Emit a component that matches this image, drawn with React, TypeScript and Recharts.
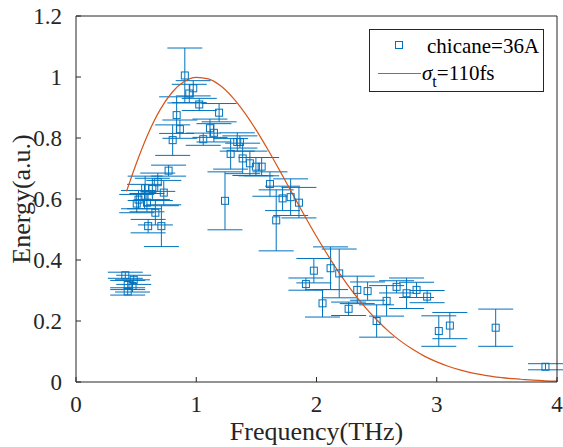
// Coherent radiation spectrum: measured energy vs frequency with a Gaussian-bunch fit
import { ComposedChart, Scatter, Line, XAxis, YAxis, ErrorBar, Legend, Label } from 'recharts';

const BLUE = '#0072BD';
const ORANGE = '#D95319';
const AXIS = '#262626';
const FONT = 'Liberation Serif, DejaVu Serif, Noto Serif, Times New Roman, serif';

const freqTicks = [0, 1, 2, 3, 4];
const energyTicks = [0, 0.2, 0.4, 0.6, 0.8, 1, 1.2];

// measurements (chicane=36A): frequency in THz, energy in a.u., half error bar
const pointFreq = [
  0.41, 0.48, 0.43, 0.47, 0.43,
  0.77, 0.68, 0.73, 0.575, 0.635, 0.52, 0.505, 0.57, 0.59, 0.66, 0.6, 0.71,
  0.905, 0.975, 0.942, 1.025, 1.19, 0.837, 0.864, 1.114, 1.147, 0.804, 1.058, 1.341, 1.363,
  1.286, 1.386, 1.446, 1.496, 1.544, 1.613, 1.239, 1.718, 1.785, 1.854, 1.665,
  1.978, 2.117, 2.189, 1.912, 2.05, 2.339, 2.425, 2.267, 2.5, 2.583, 2.666, 2.749, 2.832, 2.92,
  3.017, 3.109, 3.49, 3.904,
];
const pointEnergy = [
  0.35, 0.335, 0.318, 0.315, 0.297,
  0.693, 0.655, 0.621, 0.635, 0.633, 0.598, 0.585, 0.608, 0.588, 0.555, 0.511, 0.511,
  1.005, 0.963, 0.946, 0.91, 0.883, 0.875, 0.829, 0.832, 0.817, 0.793, 0.796, 0.787, 0.787,
  0.748, 0.733, 0.717, 0.706, 0.706, 0.649, 0.594, 0.602, 0.606, 0.588, 0.53,
  0.365, 0.373, 0.356, 0.321, 0.258, 0.302, 0.298, 0.24, 0.2, 0.266, 0.312, 0.291, 0.302, 0.28,
  0.167, 0.185, 0.178, 0.05,
];
const pointErr = [
  0.01, 0.015, 0.015, 0.02, 0.012,
  0.018, 0.03, 0.04, 0.04, 0.035, 0.03, 0.03, 0.04, 0.03, 0.04, 0.022, 0.067,
  0.09, 0.025, 0.03, 0.02, 0.03, 0.06, 0.03, 0.03, 0.03, 0.05, 0.02, 0.03, 0.02,
  0.05, 0.05, 0.04, 0.03, 0.03, 0.04, 0.095, 0.04, 0.06, 0.05, 0.1,
  0.04, 0.07, 0.08, 0.02, 0.045, 0.045, 0.03, 0.022, 0.053, 0.05, 0.02, 0.05, 0.025, 0.02,
  0.05, 0.043, 0.061, 0.01,
];

// fit curve (sigma_t = 110 fs)
const curveFreq = [
  0.42, 0.5, 0.6, 0.7, 0.8, 0.9, 1.0, 1.1, 1.2, 1.3, 1.4, 1.5, 1.6, 1.7, 1.8, 1.9, 2.0,
  2.1, 2.2, 2.3, 2.4, 2.5, 2.6, 2.7, 2.8, 2.9, 3.0, 3.1, 3.2, 3.3, 3.4, 3.5, 3.6, 3.7, 3.8, 3.9, 4.0,
];
const curveEnergy = [
  0.625, 0.715, 0.814, 0.893, 0.95, 0.985, 0.999, 0.994, 0.972, 0.934, 0.884, 0.825, 0.759, 0.689, 0.617, 0.546, 0.477,
  0.412, 0.351, 0.296, 0.247, 0.204, 0.166, 0.134, 0.107, 0.084, 0.066, 0.051, 0.039, 0.029, 0.022, 0.016, 0.012, 0.009, 0.006, 0.004, 0.003,
];

const points = pointFreq.map((x, i) => ({ x, y: pointEnergy[i], err: pointErr[i] }));
const curve = curveFreq.map((x, i) => ({ x, e: curveEnergy[i] }));

const tickStyle = { fill: AXIS, fontSize: 23, fontFamily: FONT };

function SquareMark(props: any) {
  const { cx, cy } = props;
  return <rect x={cx - 3.5} y={cy - 3.5} width={7} height={7} fill="none" stroke={BLUE} strokeWidth={1} />;
}

function XTitle(props: any) {
  const { x, y, width } = props.viewBox;
  return (
    <text x={x + width / 2} y={y + 58} textAnchor="middle" fill={AXIS} fontSize={26} style={{ fontFamily: FONT }}>
      Frequency(THz)
    </text>
  );
}

function YTitle(props: any) {
  const { x, y, height } = props.viewBox;
  const tx = x + 30;
  const ty = y + height / 2;
  return (
    <text
      x={tx}
      y={ty}
      transform={`rotate(-90 ${tx} ${ty})`}
      textAnchor="middle"
      fill={AXIS}
      fontSize={26}
      style={{ fontFamily: FONT }}
    >
      Energy(a.u.)
    </text>
  );
}

function LegendBox() {
  return (
    <div
      style={{
        width: 173,
        height: 61,
        border: `1px solid ${AXIS}`,
        background: '#fff',
        position: 'relative',
        fontFamily: FONT,
        fontSize: 21,
        color: '#000',
        lineHeight: 1,
      }}
    >
      <svg width={173} height={61} style={{ position: 'absolute', left: 0, top: 0 }}>
        <rect x={25.5} y={11.5} width={7} height={7} fill="none" stroke={BLUE} />
        <line x1={8} x2={51} y1={43.5} y2={43.5} stroke={ORANGE} strokeWidth={1.2} />
      </svg>
      <span style={{ position: 'absolute', left: 57, top: 6, whiteSpace: 'nowrap' }}>chicane=36A</span>
      <span style={{ position: 'absolute', left: 52, top: 33, whiteSpace: 'nowrap' }}>
        <i>σ</i>
        <span style={{ position: 'relative', top: 7, fontSize: 16 }}>t</span>=110fs
      </span>
    </div>
  );
}

export default function App() {
  return (
    <div style={{ position: 'absolute', left: 0, top: 0, background: '#fff', fontFamily: FONT }}>
      <ComposedChart width={563} height={447} margin={{ top: 15, right: 0, bottom: 0, left: 0 }} style={{ fontFamily: FONT }}>
        <XAxis
          type="number"
          dataKey="x"
          domain={[0, 4]}
          ticks={freqTicks}
          allowDataOverflow
          height={65}
          tickSize={-5}
          tickMargin={19}
          stroke={AXIS}
          tick={tickStyle}
        >
          <Label content={XTitle} />
        </XAxis>
        <XAxis
          xAxisId="top"
          orientation="top"
          type="number"
          dataKey="x"
          domain={[0, 4]}
          ticks={freqTicks}
          allowDataOverflow
          height={1}
          tickSize={-5}
          tick={false}
          stroke={AXIS}
        />
        <YAxis
          type="number"
          dataKey="y"
          domain={[0, 1.2]}
          ticks={energyTicks}
          allowDataOverflow
          width={76}
          tickSize={-5}
          tickMargin={19}
          stroke={AXIS}
          tick={tickStyle}
        >
          <Label content={YTitle} />
        </YAxis>
        <YAxis
          yAxisId="right"
          orientation="right"
          type="number"
          domain={[0, 1.2]}
          ticks={energyTicks}
          allowDataOverflow
          width={6}
          tickSize={-5}
          tick={false}
          stroke={AXIS}
        />
        <Scatter data={points} dataKey="y" shape={SquareMark} isAnimationActive={false}>
          <ErrorBar dataKey="err" direction="y" width={17.5} stroke={BLUE} strokeWidth={1} isAnimationActive={false} />
        </Scatter>
        <Line
          data={curve}
          dataKey="e"
          type="monotone"
          stroke={ORANGE}
          strokeWidth={1.2}
          dot={false}
          isAnimationActive={false}
        />
        <Legend
          layout="horizontal"
          verticalAlign="middle"
          align="center"
          content={LegendBox}
          wrapperStyle={{ left: 369, top: 29, width: 175, height: 63 }}
        />
      </ComposedChart>
    </div>
  );
}
